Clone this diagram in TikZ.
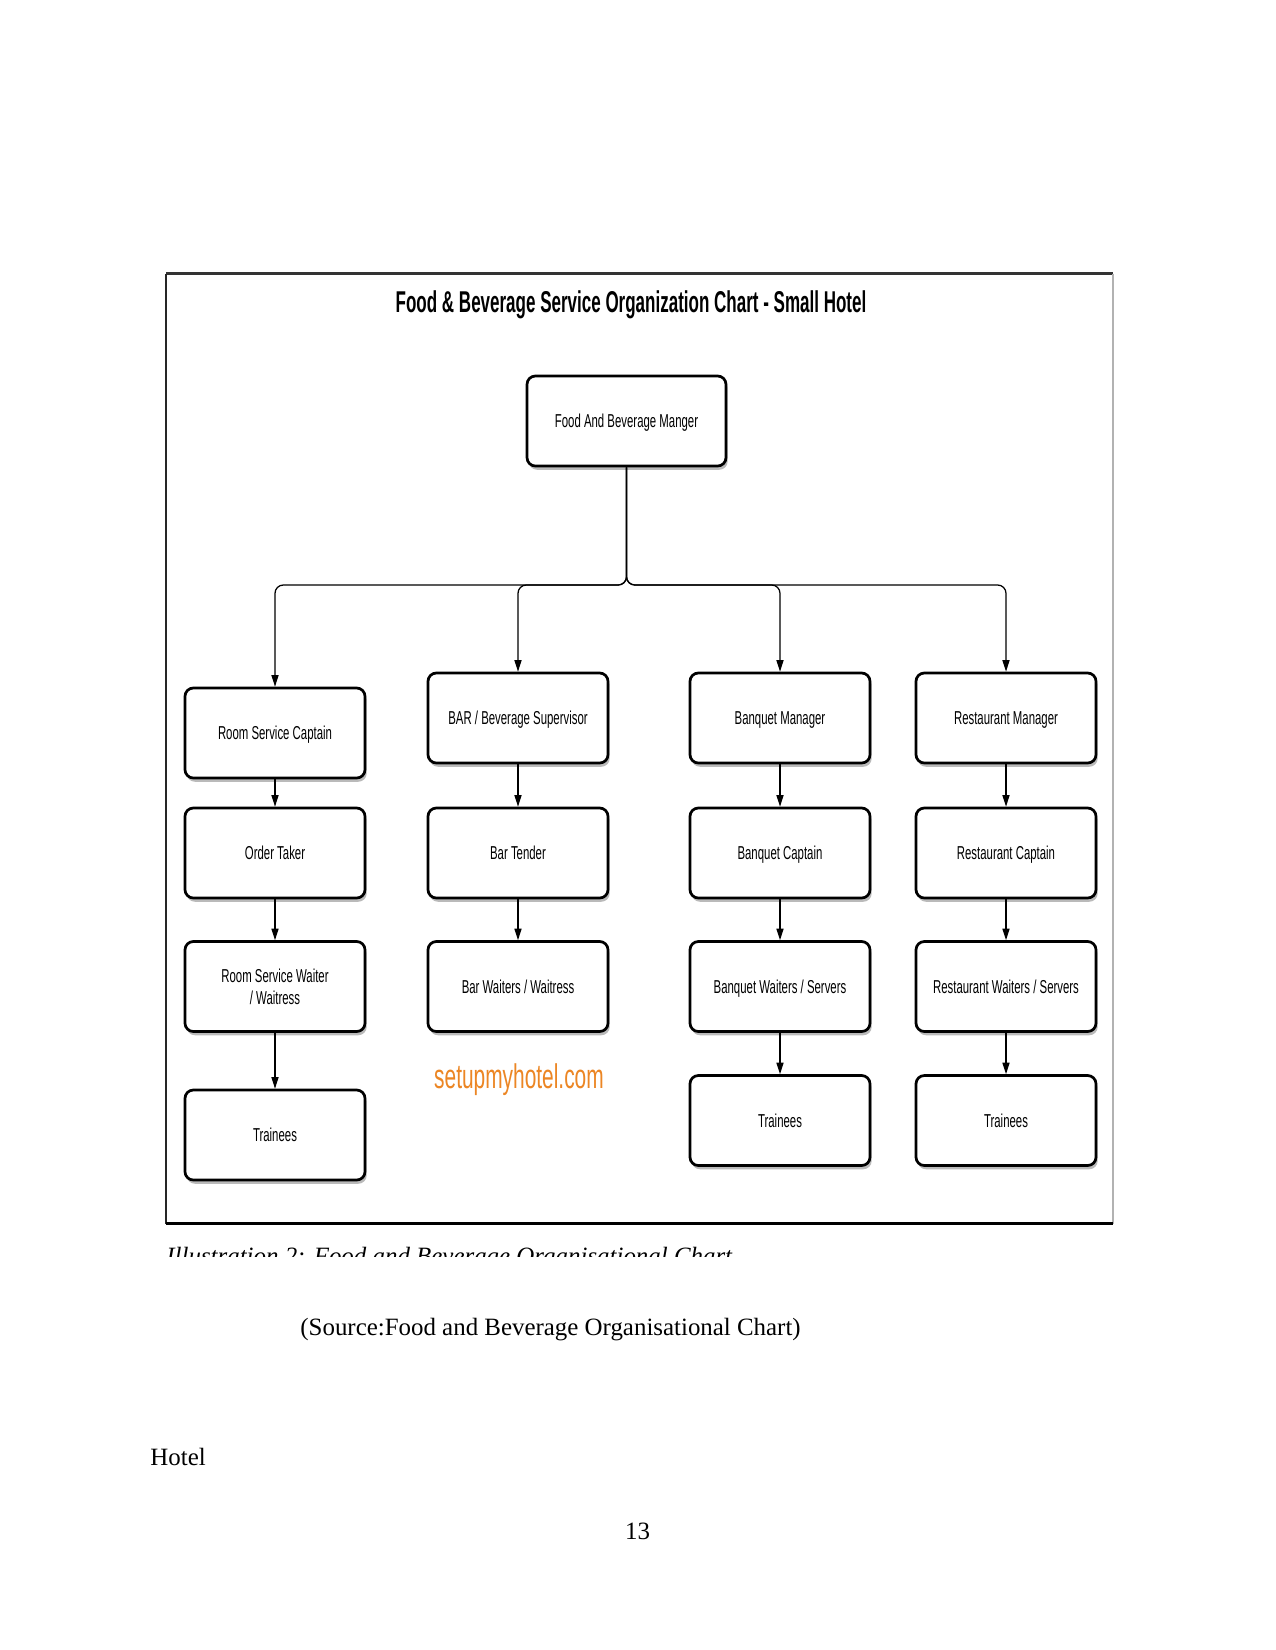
\documentclass[tikz,border=0pt]{standalone}
\usepackage{fontspec}
\setmainfont{Liberation Serif}
\newfontfamily\boxfont[FakeStretch=0.61]{Liberation Sans}
\newfontfamily\titlefont[FakeStretch=0.565]{Liberation Sans}
\usetikzlibrary{arrows.meta,shadows}
\definecolor{siteorange}{RGB}{236,134,36}
\tikzset{
  box/.style={draw, line width=1.3bp, rounded corners=4bp, fill=white,
    minimum width=86.4bp, minimum height=43.2bp, inner sep=0pt, align=center,
    text depth=0pt,
    font=\boxfont\fontsize{9}{10.5}\selectfont,
    drop shadow={shadow xshift=0.8bp, shadow yshift=-1.8bp, opacity=0.45, fill=black!60}},
  conn/.style={line width=0.6bp, -{Triangle[length=5.5bp,width=3.4bp]}},
  bus/.style={conn, rounded corners=4bp}
}
\begin{document}
\begin{tikzpicture}[x=0.48bp, y={(0bp,-0.48bp)}]
\useasboundingbox (0,0) rectangle (1275,1650);
\fill[white] (0,0) rectangle (1275,1650);

% frame
\draw[black!80, line width=1.2bp] (166,273.5) -- (1113,273.5);
\draw[black!85, line width=1bp] (166,273.5) -- (166,1223.5);
\draw[black!30, line width=0.6bp] (1113,273.5) -- (1113,1223.5);
\draw[black, line width=1.6bp] (166,1223.5) -- (1113,1223.5);

\node[font=\titlefont\bfseries\fontsize{14.5}{16}\selectfont] (title) at (631,305) {Food \& Beverage Service Organization Chart - Small Hotel};

% nodes
\node[box, minimum width=95.5bp] (fbm) at (626.5,421) {Food And Beverage Manger};

\node[box] (rsc) at (275,733) {Room Service Captain};
\node[box] (bar) at (518,718) {BAR / Beverage Supervisor};
\node[box] (bm)  at (780,718) {Banquet Manager};
\node[box] (rm)  at (1006,718) {Restaurant Manager};

\node[box] (ot)  at (275,853) {Order Taker};
\node[box] (bt)  at (518,853) {Bar Tender};
\node[box] (bc)  at (780,853) {Banquet Captain};
\node[box] (rc)  at (1006,853) {Restaurant Captain};

\node[box] (rsw) at (275,986.5) {Room Service Waiter\\/ Waitress};
\node[box] (bw)  at (518,986.5) {Bar Waiters / Waitress};
\node[box] (bqw) at (780,986.5) {Banquet Waiters / Servers};
\node[box] (rw)  at (1006,986.5) {Restaurant Waiters / Servers};

\node[box] (t1) at (275,1135) {Trainees};
\node[box] (t3) at (780,1120.5) {Trainees};
\node[box] (t4) at (1006,1120.5) {Trainees};

\node[font=\boxfont\fontsize{16.5}{18}\selectfont, text=siteorange] (site) at (519,1080) {setupmyhotel.com};

% connectors
\coordinate (j) at (626.5,585);
\foreach \c in {rsc,bar,bm,rm} \draw[bus] (fbm.south) -- (j) -| (\c.north);
\draw[conn] (rsc.south) -- (ot.north);
\draw[conn] (ot.south) -- (rsw.north);
\draw[conn] (rsw.south) -- (t1.north);
\draw[conn] (bar.south) -- (bt.north);
\draw[conn] (bt.south) -- (bw.north);
\draw[conn] (bm.south) -- (bc.north);
\draw[conn] (bc.south) -- (bqw.north);
\draw[conn] (bqw.south) -- (t3.north);
\draw[conn] (rm.south) -- (rc.north);
\draw[conn] (rc.south) -- (rw.north);
\draw[conn] (rw.south) -- (t4.north);

% caption (cut off)
\begin{scope}
\clip (150,1232) rectangle (820,1256);
\node[anchor=base west, inner sep=0pt, font=\itshape\fontsize{12}{14}\selectfont] (cap) at (166,1264) {Illustration 2: Food and Beverage Organisational Chart};
\end{scope}

\node[anchor=base west, inner sep=0pt, font=\fontsize{12}{14}\selectfont] (src) at (300,1335) {(Source:Food and Beverage Organisational Chart)};
\node[anchor=base west, inner sep=0pt, font=\fontsize{12}{14}\selectfont] (hotel) at (150,1465) {Hotel};
\node[anchor=base, inner sep=0pt, font=\fontsize{12}{14}\selectfont] (pg) at (637.5,1539) {13};
\end{tikzpicture}
\end{document}
